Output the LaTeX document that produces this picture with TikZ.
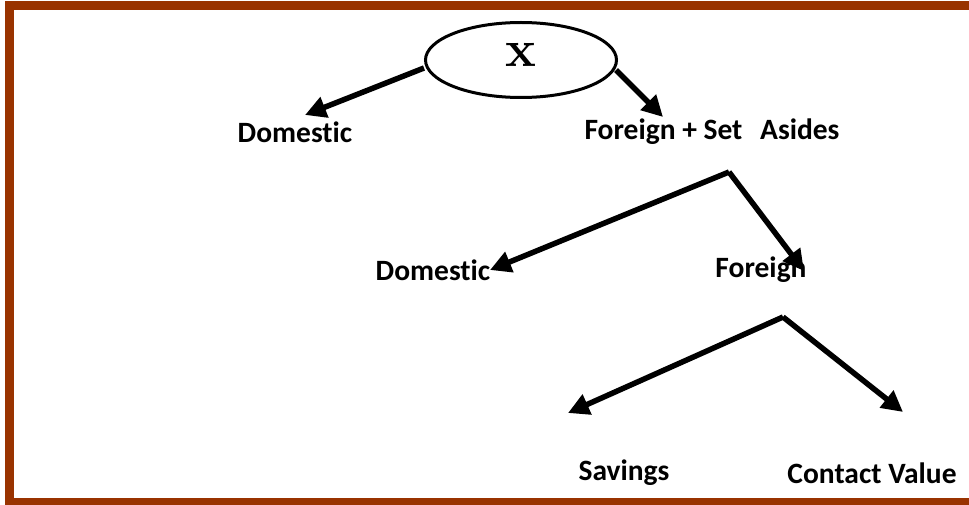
\documentclass[tikz,border=0pt]{standalone}
\usepackage{fontspec}
\newfontfamily\calb{Carlito}[Ligatures=NoCommon]
\usetikzlibrary{arrows.meta,shapes.geometric}
\definecolor{framec}{HTML}{993300}
\begin{document}
\begin{tikzpicture}[x=1pt,y=-1pt,
  lbl/.style={font=\calb\fontsize{29.5}{32}\selectfont\bfseries, inner sep=0pt, anchor=center},
  arr/.style={line width=5.5pt, -{Triangle[width=21pt,length=21pt]}},
  bar/.style={fill=framec}]
\useasboundingbox (0,0) rectangle (969,505);
\fill[white] (0,0) rectangle (969,505);
% frame
\fill[bar] (5,1) rectangle (969,10);
\fill[bar] (5,1) rectangle (14,505);
\fill[bar] (5,498) rectangle (969,505);
% root
\node[draw, ellipse, line width=3pt, minimum width=191pt, minimum height=75pt, inner sep=0pt] (root) at (521,60) {};
\node[font=\bfseries\fontsize{52}{56}\selectfont, inner sep=0pt] (rx) at (521,55) {x};
% level 1
\node[lbl] (dom1) at (295,132) {Domestic};
\node[lbl] (for1) at (712,132) {Foreign + Set\hspace{0.6em}Asides};
\coordinate (t1l) at (305,115);
\coordinate (t1r) at (663,117);
\coordinate (s1l) at (424,68);
\coordinate (s1r) at (616,70);
\draw[arr] (s1l) -- (t1l);
\draw[arr] (s1r) -- (t1r);
% level 2
\coordinate (v2) at (729,172);
\node[lbl] (dom2) at (433,270) {Domestic};
\node[lbl] (for2) at (761,270) {Foreign};
\coordinate (t2l) at (490,270);
\coordinate (t2r) at (804,271);
\draw[arr] (v2) -- (t2l);
\draw[arr] (v2) -- (t2r);
% level 3
\coordinate (v3) at (783,317);
\coordinate (t3l) at (568,413);
\coordinate (t3r) at (903,412);
\draw[arr] (v3) -- (t3l);
\draw[arr] (v3) -- (t3r);
\node[lbl] (sav) at (624,473) {Savings};
\node[lbl] (cv) at (872,473) {Contact Value};
\end{tikzpicture}
\end{document}
